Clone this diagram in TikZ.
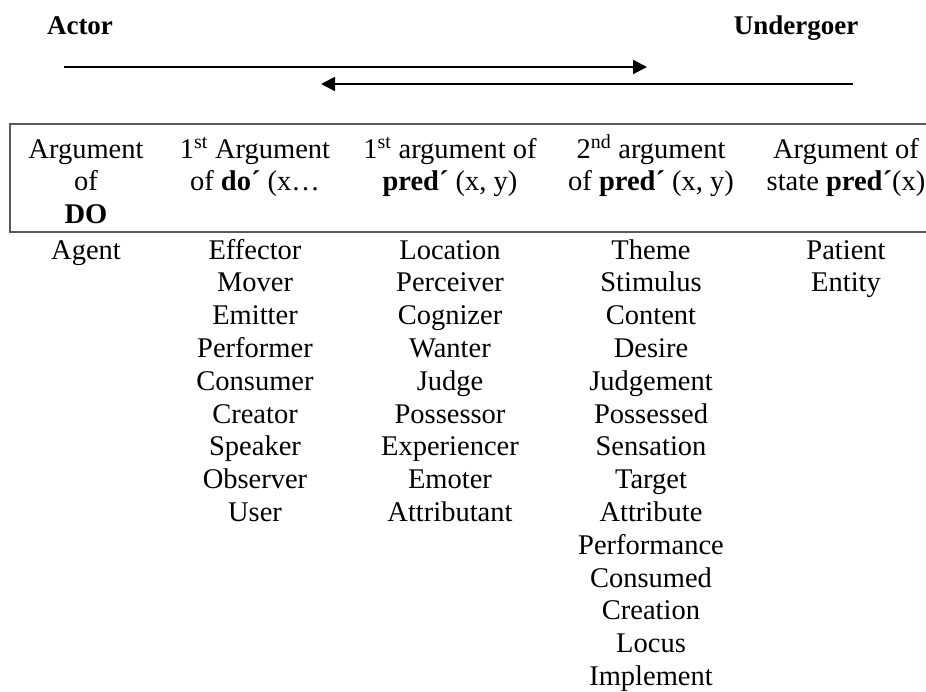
\documentclass[tikz,border=0pt]{standalone}
\usepackage{fontspec}
\setmainfont{Liberation Serif}
\usetikzlibrary{arrows.meta}
% a multi-line node sits on the baseline of its last line,
% so the y of a node is first baseline + (lines - 1) * skip
\newcommand{\lineskipamt}{32.8}
\tikzset{
  cell/.style={align=center, inner sep=0pt, anchor=base,
    font=\fontsize{28.5}{32.8}\selectfont},
  pole/.style={inner sep=0pt, anchor=base,
    font=\fontsize{27}{32}\selectfont\bfseries},
  scale arrow/.style={line width=2pt,
    -{Triangle[length=14pt,width=14pt]}},
  frame line/.style={draw=black!65, line width=1.5pt}
}
\begin{document}
\begin{tikzpicture}[x=1pt,y=-1pt]
\useasboundingbox (0,0) rectangle (926,691);

% poles of the hierarchy
\node[pole] (actor) at (80,34) {Actor};
\node[pole] (undergoer) at (796,34) {Undergoer};

% the two opposing arrows
\coordinate (a1s) at (64,67);
\coordinate (a1e) at (647,67);
\coordinate (a2s) at (853,84);
\coordinate (a2e) at (321,84);
\draw[scale arrow] (a1s) -- (a1e);
\draw[scale arrow] (a2s) -- (a2e);

% header frame (open at the right)
\coordinate (ftr) at (926,124);
\coordinate (ftl) at (10,124);
\coordinate (fbl) at (10,232);
\coordinate (fbr) at (926,232);
\draw[frame line] (ftr) -- (ftl) -- (fbl) -- (fbr);

% column headings (first baseline at 158)
\node[cell] (h1) at (86,{158+2*\lineskipamt}) {Argument\\of\\\textbf{DO}};
\node[cell] (h2) at (255,{158+\lineskipamt}) {1\textsuperscript{st} Argument\\of \textbf{do´} (x…};
\node[cell] (h3) at (450,{158+\lineskipamt}) {1\textsuperscript{st} argument of\\\textbf{pred´} (x, y)};
\node[cell] (h4) at (651,{158+\lineskipamt}) {2\textsuperscript{nd} argument\\of \textbf{pred´} (x, y)};
\node[cell] (h5) at (846,{158+\lineskipamt}) {Argument of\\state \textbf{pred´}(x)};

% role lists (first baseline at 259)
\node[cell] (c1) at (86,259) {Agent};
\node[cell] (c2) at (255,{259+8*\lineskipamt}) {Effector\\Mover\\Emitter\\Performer\\Consumer\\Creator\\Speaker\\Observer\\User};
\node[cell] (c3) at (450,{259+8*\lineskipamt}) {Location\\Perceiver\\Cognizer\\Wanter\\Judge\\Possessor\\Experiencer\\Emoter\\Attributant};
\node[cell] (c4) at (651,{259+13*\lineskipamt}) {Theme\\Stimulus\\Content\\Desire\\Judgement\\Possessed\\Sensation\\Target\\Attribute\\Performance\\Consumed\\Creation\\Locus\\Implement};
\node[cell] (c5) at (846,{259+\lineskipamt}) {Patient\\Entity};
\end{tikzpicture}
\end{document}
